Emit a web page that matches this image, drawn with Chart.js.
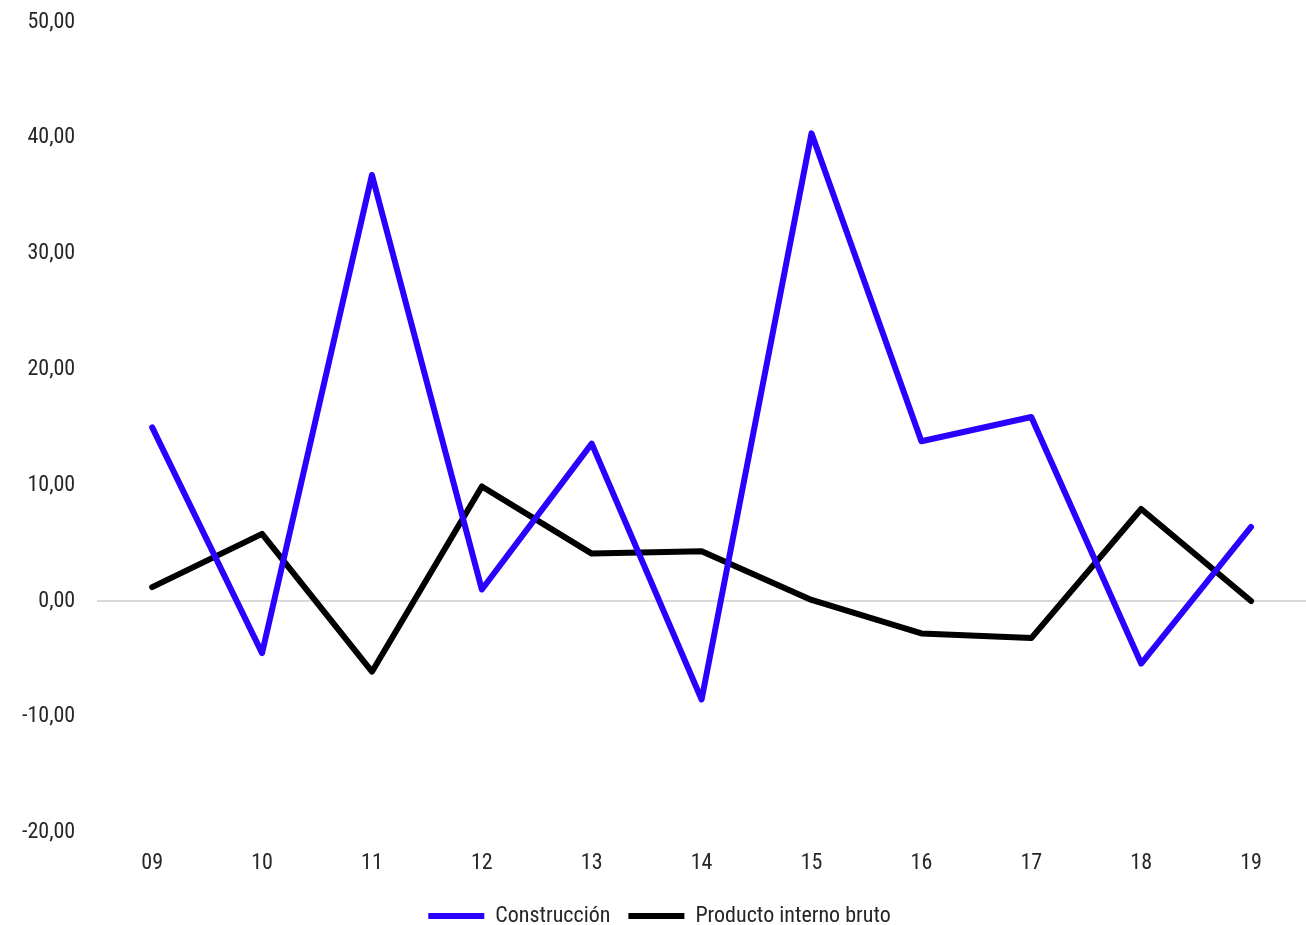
<!DOCTYPE html>
<html>
<head>
<meta charset="utf-8">
<script src="https://cdn.jsdelivr.net/npm/chart.js@4"></script>
<style>
    html, body { margin: 0; padding: 0; background: #ffffff; }
    #wrap { width: 1306px; height: 925px; }
</style>
</head>
<body>
<div id="wrap"><canvas id="grafico"></canvas></div>
<script>
var etiquetas = ['09', '10', '11', '12', '13', '14', '15', '16', '17', '18', '19'];
var construccion = [15.0, -4.5, 36.8, 1.0, 13.6, -8.5, 40.4, 13.8, 15.9, -5.4, 6.4];
var pib = [1.2, 5.8, -6.1, 9.9, 4.1, 4.3, 0.1, -2.8, -3.2, 7.95, 0.0];
var ejeMin = -20;
var ejeMax = 50;
var paso = 10;

var fuente = "'Liberation Sans Narrow', 'Arial Narrow', 'Roboto Condensed', 'Liberation Sans', sans-serif";

var control = document.getElementById('grafico');
var grafico = new Chart(control, {
    type: 'line',
    data: {
        labels: etiquetas,
        datasets: [{
            label: 'Construcción',
            data: construccion,
            borderColor: '#2a00ff',
            backgroundColor: '#2a00ff',
            borderWidth: 6,
            borderCapStyle: 'round',
            borderJoinStyle: 'round',
            pointRadius: 0,
            pointStyle: 'line',
            tension: 0
        }, {
            label: 'Producto interno bruto',
            data: pib,
            borderColor: '#000000',
            backgroundColor: '#000000',
            borderWidth: 6,
            borderCapStyle: 'round',
            borderJoinStyle: 'round',
            pointRadius: 0,
            pointStyle: 'line',
            tension: 0
        }]
    },
    options: {
        responsive: true,
        maintainAspectRatio: false,
        animation: false,
        layout: {
            autoPadding: false,
            padding: { top: 0, right: 0, bottom: -12, left: 13 }
        },
        plugins: {
            legend: {
                display: true,
                position: 'bottom',
                labels: {
                    usePointStyle: true,
                    pointStyleWidth: 56,
                    boxHeight: 5,
                    color: '#262626',
                    padding: 18,
                    font: { family: fuente, size: 22 }
                }
            },
            tooltip: { enabled: false }
        },
        scales: {
            x: {
                offset: true,
                grid: { display: false },
                border: { display: false },
                ticks: {
                    color: '#262626',
                    padding: 10,
                    font: { family: fuente, size: 22 }
                }
            },
            y: {
                min: ejeMin,
                max: ejeMax,
                border: { display: false },
                grid: {
                    drawTicks: true,
                    tickLength: 13,
                    tickColor: 'rgba(0,0,0,0)',
                    lineWidth: 2,
                    color: function (ctx) {
                        return ctx.tick && ctx.tick.value === 0 ? '#d9d9d9' : 'rgba(0,0,0,0)';
                    }
                },
                ticks: {
                    stepSize: paso,
                    color: '#262626',
                    padding: 9,
                    font: { family: fuente, size: 22 },
                    callback: function (valor) {
                        return valor.toFixed(2).replace('.', ',');
                    }
                }
            }
        }
    }
});
</script>
</body>
</html>
